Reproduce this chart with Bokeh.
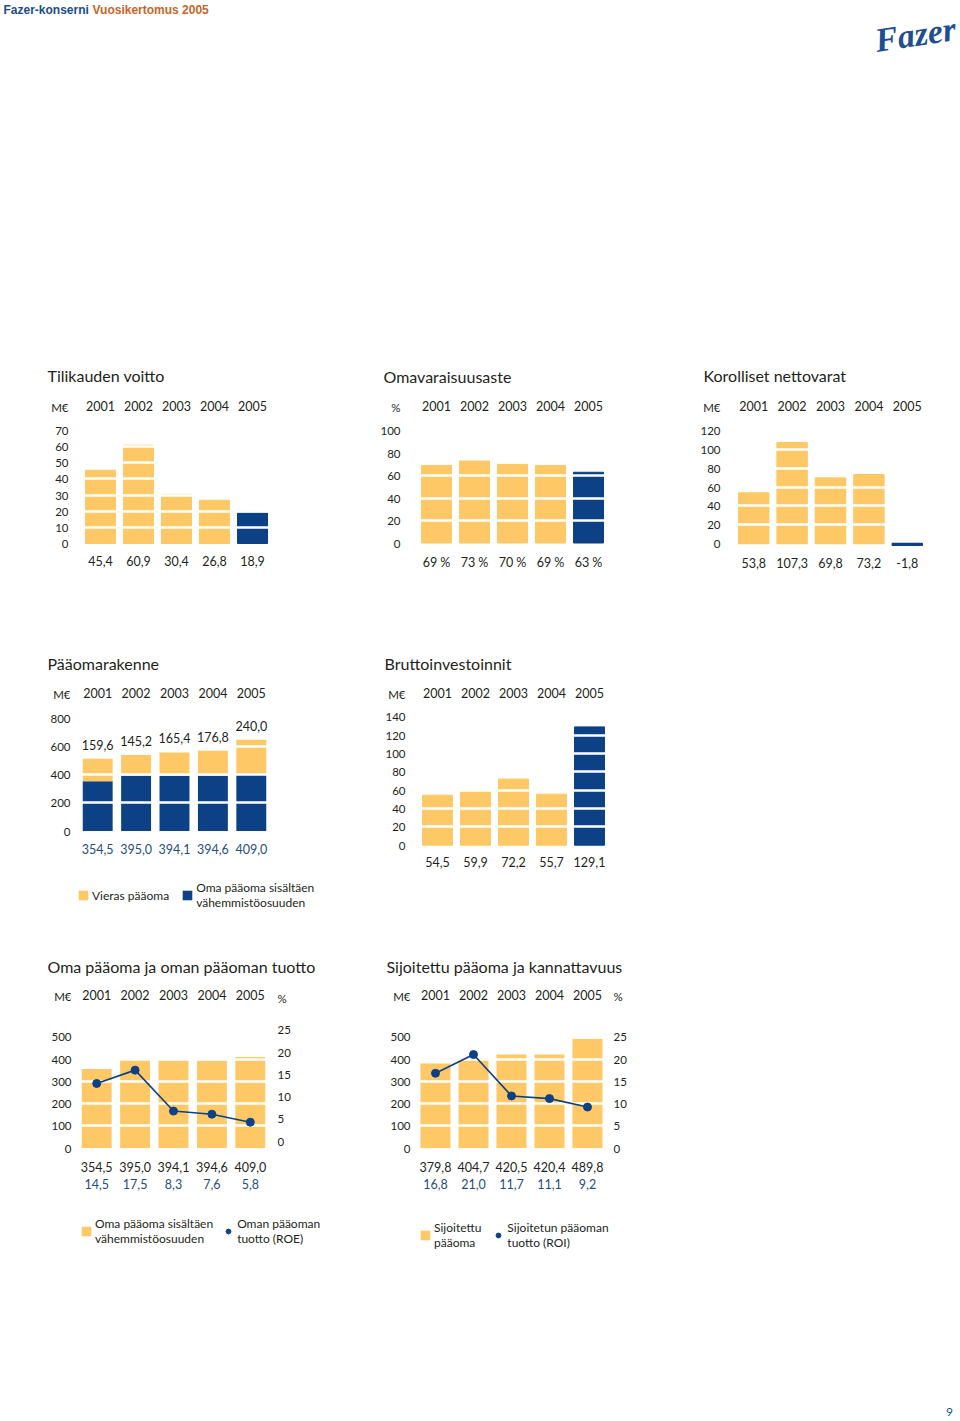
from bokeh.plotting import figure
from bokeh.models import (ColumnDataSource, FactorRange, Range1d, LinearAxis, CategoricalAxis,
                          FixedTicker, Grid, Title, Legend, LegendItem, Spacer)
from bokeh.layouts import column, row
from bokeh.embed import file_html
from bokeh.resources import INLINE
from bokeh.core.properties import value

# ---------------- data ----------------
years = ["2001", "2002", "2003", "2004", "2005"]
voitto = [45.4, 60.9, 30.4, 26.8, 18.9]
omavaraisuus = [69, 73, 70, 69, 63]
korolliset = [53.8, 107.3, 69.8, 73.2, -1.8]
vieras = [159.6, 145.2, 165.4, 176.8, 240.0]
oma = [354.5, 395.0, 394.1, 394.6, 409.0]
brutto = [54.5, 59.9, 72.2, 55.7, 129.1]
roe = [14.5, 17.5, 8.3, 7.6, 5.8]
sijoitettu = [379.8, 404.7, 420.5, 420.4, 489.8]
roi = [16.8, 21.0, 11.7, 11.1, 9.2]

ticks_voitto = [0, 10, 20, 30, 40, 50, 60, 70]
ticks_omav = [0, 20, 40, 60, 80, 100]
ticks_korol = [0, 20, 40, 60, 80, 100, 120]
ticks_rakenne = [0, 200, 400, 600, 800]
ticks_brutto = [0, 20, 40, 60, 80, 100, 120, 140]
ticks_meur = [0, 100, 200, 300, 400, 500]
ticks_pct = [0, 5, 10, 15, 20, 25]

# ---------------- style ----------------
YEL = "#FDC865"
BLU = "#0D4185"
TXT = "#231F20"
LBLU = "#1F4E7A"
FONT = "Lato"


def fnum(v):
    return f"{v:.1f}".replace(".", ",")


def make_chart(title, unit, ticks, fig_left, fig_right, fig_top, fig_bottom,
               cx0, cx4, y0, k, hdr, title_x, title_y, tick_standoff):
    cell = (cx4 - cx0) / 4.0
    fl = cx0 - cell / 2.0
    fw = int(round(5 * cell))
    mbl = int(round(fl - fig_left))
    mbr = (fig_right - fig_left) - mbl - fw
    ft = y0 - hdr * k - 1.0
    mbt = int(round(ft - fig_top))
    mbb = 2
    fh = (fig_bottom - fig_top) - mbt - mbb
    ft_a = fig_top + mbt
    fb_a = ft_a + fh
    yr = Range1d(start=-(fb_a - y0) / k, end=(y0 - ft_a) / k)
    t = Title(text=title, align="left", offset=title_x - (fig_left + mbl),
              standoff=int(round((ft_a - title_y) - 5)),
              text_font=FONT, text_font_size="16px", text_font_style="normal", text_color=TXT)
    p = figure(x_range=FactorRange(factors=years), y_range=yr,
               frame_width=fw, frame_height=fh,
               min_border_left=mbl, min_border_right=mbr, min_border_top=mbt, min_border_bottom=mbb,
               x_axis_location=None, y_axis_location=None, toolbar_location=None,
               output_backend="svg", outline_line_color=None, title=t)
    for g in p.grid:
        g.visible = False
    yl = LinearAxis(ticker=FixedTicker(ticks=ticks + [hdr]), major_label_overrides={hdr: unit},
                    axis_line_color=None, major_tick_line_color=None, minor_tick_line_color=None,
                    major_tick_in=0, major_tick_out=0, major_label_standoff=tick_standoff,
                    major_label_text_font=FONT, major_label_text_font_size="11.5px",
                    major_label_text_color=TXT)
    p.add_layout(yl, "left")
    xa = CategoricalAxis(axis_line_color=None, major_tick_line_color=None,
                         major_tick_in=0, major_tick_out=0, major_label_standoff=-4,
                         major_label_text_font=FONT, major_label_text_font_size="12.5px",
                         major_label_text_color=TXT)
    p.add_layout(xa, "above")
    grid = Grid(dimension=1, ticker=FixedTicker(ticks=[v for v in ticks if v > 0]),
                grid_line_color="white", grid_line_width=2.5, level="underlay")
    p.add_layout(grid)
    geo = dict(cell=cell, ft=ft_a, fb=fb_a, fl=fig_left + mbl, fw=fw, y0=y0, k=k)
    return p, geo


def value_row(p, geo, labels, color, page_y):
    """Row of value labels under the bars, at page row page_y."""
    src = ColumnDataSource(dict(x=years, t=labels))
    p.text(x="x", y=(geo["y0"] - page_y) / geo["k"], text="t", source=src,
           text_align="center", text_baseline="middle", text_font=value(FONT),
           text_font_size="12.5px", text_color=color)


def simple_bars(p, geo, vals, colors):
    src = ColumnDataSource(dict(x=years, top=vals, color=colors))
    return p.vbar(x="x", top="top", bottom=0, width=30.0 / geo["cell"], source=src,
                  fill_color="color", line_color="color", line_width=1, level="image")


def legend_strip(total_w, total_h, gap_top, gap_left, spec, spacing):
    """Legend under a chart: a small figure that holds only a Legend."""
    w = total_w - gap_left
    h = total_h - gap_top
    f = figure(width=w, height=h, x_range=Range1d(0, 1), y_range=Range1d(0, 1),
               toolbar_location=None, output_backend="svg", outline_line_color=None,
               min_border=0, x_axis_location=None, y_axis_location=None)
    f.grid.visible = False
    items = []
    for label, kind, color in spec:
        if kind == "bar":   # zero-size proxy, only its legend swatch is seen
            r = f.vbar(x=[0], top=[0], width=0, fill_color=color, line_color=None)
        else:
            r = f.scatter(x=[0], y=[0], size=0, fill_color=color, line_color=color)
        items.append(LegendItem(label=label, renderers=[r]))
    leg = Legend(items=items, orientation="horizontal", location="top_left",
                 border_line_color=None, background_fill_alpha=0, margin=0, padding=0,
                 glyph_width=12, glyph_height=12, label_standoff=3, spacing=spacing,
                 label_height=10, label_text_font=FONT, label_text_font_size="12px",
                 label_text_color=TXT, label_text_line_height=1.15)
    f.add_layout(leg)
    return column(Spacer(width=total_w, height=gap_top),
                  row(Spacer(width=gap_left, height=h), f))


hl = [YEL, YEL, YEL, YEL, BLU]

# ---------- row 1 ----------
R1T, R1B = 340, 585
p1, g1 = make_chart("Tilikauden voitto", "M€", ticks_voitto, 0, 330, R1T, R1B,
                    100, 252, 543, 113 / 70, 84, 47, 375, 13)
simple_bars(p1, g1, voitto, hl)
value_row(p1, g1, [fnum(v) for v in voitto], TXT, 560)

p2, g2 = make_chart("Omavaraisuusaste", "%", ticks_omav, 330, 660, R1T, R1B,
                    436, 588, 539.5, 1.123, 121, 383, 375, 17)
simple_bars(p2, g2, omavaraisuus, hl)
value_row(p2, g2, [f"{v} %" for v in omavaraisuus], TXT, 559)

p3, g3 = make_chart("Korolliset nettovarat", "M€", ticks_korol, 660, 960, R1T, R1B,
                    753, 906.5, 542, 0.939, 145, 703, 375, 14)
r3 = simple_bars(p3, g3, korolliset, hl)
r3.glyph.line_width = 1.5
value_row(p3, g3, [fnum(v) for v in korolliset], TXT, 561)

# ---------- row 2 ----------
R2T, R2M, R2B = 628, 870, 915
p4, g4 = make_chart("Pääomarakenne", "M€", ticks_rakenne, 0, 360, R2T, R2M,
                    97, 251, 830.5, 0.1405, 975, 47, 664, 8)
total = [a + b for a, b in zip(oma, vieras)]
src4 = ColumnDataSource(dict(x=years, oma=oma, total=total, vl=[fnum(v) for v in vieras]))
w4 = 30.0 / g4["cell"]
p4.vbar(x="x", top="oma", bottom=0, width=w4, source=src4, fill_color=BLU, line_color=None, level="image")
p4.vbar(x="x", top="total", bottom="oma", width=w4, source=src4, fill_color=YEL, line_color=None, level="image")
p4.text(x="x", y="total", text="vl", source=src4, y_offset=-14, text_align="center",
        text_baseline="middle", text_font=value(FONT), text_font_size="12.5px", text_color=TXT)
value_row(p4, g4, [fnum(v) for v in oma], LBLU, 848)
l4 = legend_strip(360, R2B - R2M, 10, 77,
                  [("Vieras pääoma", "bar", YEL),
                   ("Oma pääoma sisältäen\nvähemmistöosuuden", "bar", BLU)], 12)

p5, g5 = make_chart("Bruttoinvestoinnit", "M€", ticks_brutto, 360, 660, R2T, R2B,
                    437, 589, 844.7, 0.9164, 164, 384, 664, 13)
simple_bars(p5, g5, brutto, hl)
value_row(p5, g5, [fnum(v) for v in brutto], TXT, 861)

# ---------- row 3 ----------
R3T, R3M, R3B = 928, 1205, 1255


def dual_chart(title, bars, pct, fig_left, fig_right, cx0, cx4, title_x, shift, rstand, row_y):
    p, g = make_chart(title, "M€", ticks_meur, fig_left, fig_right, R3T, R3M,
                      cx0, cx4, 1147.5, 0.2225, 680, title_x, 969, 6)
    kr = g["k"] * 20
    p.extra_y_ranges = {
        "pct": Range1d(start=p.y_range.start / 20, end=p.y_range.end / 20),
        "pct_axis": Range1d(start=-(g["fb"] - (g["y0"] - shift)) / kr,
                            end=((g["y0"] - shift) - g["ft"]) / kr),
    }
    phdr = int(((g["y0"] - shift) - g["ft"]) / kr)
    ra = LinearAxis(y_range_name="pct_axis", ticker=FixedTicker(ticks=ticks_pct + [phdr]),
                    major_label_overrides={phdr: "%"},
                    axis_line_color=None, major_tick_line_color=None, minor_tick_line_color=None,
                    major_tick_in=0, major_tick_out=0, major_label_standoff=rstand,
                    major_label_text_font=FONT, major_label_text_font_size="11.5px",
                    major_label_text_color=TXT)
    p.add_layout(ra, "right")
    src = ColumnDataSource(dict(x=years, v=bars, pct=pct))
    p.vbar(x="x", top="v", bottom=0, width=30.0 / g["cell"], source=src,
           fill_color=YEL, line_color=None, level="image")
    p.line(x="x", y="pct", source=src, y_range_name="pct", line_color=BLU, line_width=1.6)
    p.scatter(x="x", y="pct", source=src, y_range_name="pct", size=8,
              fill_color=BLU, line_color=BLU)
    value_row(p, g, [fnum(v) for v in bars], TXT, row_y[0])
    value_row(p, g, [fnum(v) for v in pct], LBLU, row_y[1])
    return p


p6 = dual_chart("Oma pääoma ja oman pääoman tuotto", oma, roe, 0, 362, 96, 250, 47, 7, 8, (1166, 1183))
l6 = legend_strip(362, R3B - R3M, 11, 80,
                  [("Oma pääoma sisältäen\nvähemmistöosuuden", "bar", YEL),
                   ("Oman pääoman\ntuotto (ROE)", "dot", BLU)], 9)
p7 = dual_chart("Sijoitettu pääoma ja kannattavuus", sijoitettu, roi, 362, 700, 435, 587, 386, 0, 7, (1166, 1183))
l7 = legend_strip(338, R3B - R3M, 15, 57,
                  [("Sijoitettu\npääoma", "bar", YEL),
                   ("Sijoitetun pääoman\ntuotto (ROI)", "dot", BLU)], 11)

# ---------- header / footer ----------
hdr = figure(width=960, height=60, x_range=Range1d(0, 960), y_range=Range1d(60, 0),
             toolbar_location=None, output_backend="svg", outline_line_color=None,
             min_border=0, x_axis_location=None, y_axis_location=None)
hdr.grid.visible = False
hdr.text(x=[3], y=[9], text=["Fazer-konserni"], text_font=value("Liberation Sans"),
         text_font_style="bold", text_font_size="12px", text_color="#1B4C8A", text_baseline="middle")
hdr.text(x=[92], y=[9], text=["Vuosikertomus 2005"], text_font=value("Liberation Sans"),
         text_font_style="bold", text_font_size="12px", text_color="#C5652A", text_baseline="middle")
hdr.text(x=[955], y=[28], text=["Fazer"], text_font=value("Liberation Serif"),
         text_font_style="bold italic", text_font_size="34px", text_color="#1D4F91",
         text_align="right", text_baseline="middle", angle=0.15)

ftr = figure(width=960, height=28, x_range=Range1d(0, 960), y_range=Range1d(28, 0),
             toolbar_location=None, output_backend="svg", outline_line_color=None,
             min_border=0, x_axis_location=None, y_axis_location=None)
ftr.grid.visible = False
ftr.text(x=[949], y=[20], text=["9"], text_font=value("Lato"), text_font_size="12px",
         text_color="#1D4F91", text_align="center", text_baseline="middle")

layout = column(
    hdr,
    Spacer(width=960, height=R1T - 60),
    row(p1, p2, p3),
    Spacer(width=960, height=R2T - R1B),
    row(column(p4, l4), p5),
    Spacer(width=960, height=R3T - R2B),
    row(column(p6, l6), column(p7, l7)),
    Spacer(width=960, height=1391 - R3B),
    ftr,
)

open("out.html", "w").write(file_html(layout, INLINE))
